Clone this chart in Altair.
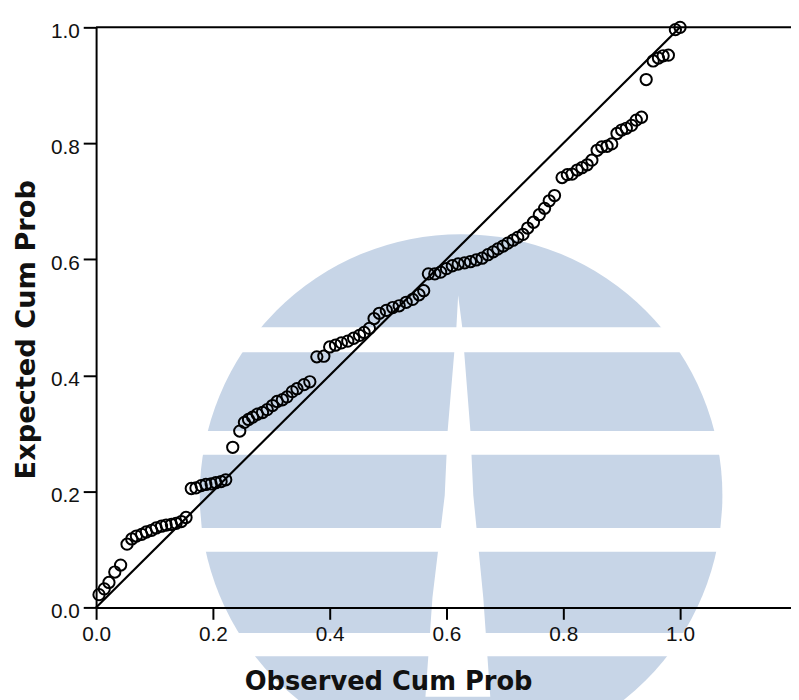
import altair as alt
import pandas as pd

# Observed / expected cumulative probabilities
obs = [0.005, 0.014, 0.022, 0.032, 0.042, 0.053, 0.061, 0.069, 0.078, 0.086,
       0.095, 0.103, 0.112, 0.120, 0.129, 0.137, 0.146, 0.154, 0.163, 0.171,
       0.180, 0.188, 0.197, 0.205, 0.214, 0.222, 0.234, 0.246, 0.254, 0.261,
       0.268, 0.276, 0.285, 0.293, 0.302, 0.310, 0.319, 0.327, 0.336, 0.344,
       0.356, 0.366, 0.378, 0.390, 0.400, 0.410, 0.420, 0.431, 0.441, 0.451,
       0.459, 0.468, 0.476, 0.485, 0.497, 0.508, 0.519, 0.531, 0.542, 0.553,
       0.561, 0.569, 0.580, 0.590, 0.600, 0.610, 0.620, 0.631, 0.641, 0.651,
       0.661, 0.671, 0.680, 0.688, 0.697, 0.705, 0.714, 0.722, 0.731, 0.739,
       0.749, 0.759, 0.768, 0.776, 0.785, 0.798, 0.807, 0.815, 0.824, 0.832,
       0.841, 0.849, 0.858, 0.866, 0.875, 0.883, 0.892, 0.900, 0.908, 0.917,
       0.925, 0.934, 0.942, 0.954, 0.963, 0.971, 0.980, 0.992, 1.000]
exp = [0.022, 0.032, 0.043, 0.061, 0.073, 0.109, 0.118, 0.123, 0.126, 0.130,
       0.133, 0.137, 0.140, 0.142, 0.143, 0.145, 0.148, 0.155, 0.205, 0.206,
       0.210, 0.212, 0.213, 0.215, 0.217, 0.220, 0.276, 0.304, 0.319, 0.324,
       0.328, 0.333, 0.336, 0.341, 0.348, 0.355, 0.358, 0.363, 0.372, 0.377,
       0.384, 0.389, 0.432, 0.433, 0.449, 0.452, 0.456, 0.459, 0.464, 0.469,
       0.474, 0.481, 0.498, 0.507, 0.512, 0.517, 0.520, 0.526, 0.531, 0.539,
       0.546, 0.575, 0.575, 0.578, 0.584, 0.589, 0.592, 0.594, 0.596, 0.599,
       0.602, 0.608, 0.613, 0.618, 0.623, 0.628, 0.633, 0.638, 0.643, 0.654,
       0.664, 0.677, 0.688, 0.701, 0.710, 0.741, 0.746, 0.747, 0.754, 0.758,
       0.763, 0.771, 0.788, 0.794, 0.795, 0.799, 0.817, 0.823, 0.826, 0.831,
       0.840, 0.845, 0.910, 0.942, 0.947, 0.951, 0.952, 0.996, 1.000]

ref_x = [0.0, 1.0]
ref_y = [0.0, 1.0]
tick_vals = [0.0, 0.2, 0.4, 0.6, 0.8, 1.0]

# background watermark (logo) in data units
logo_x = [0.625]
logo_y = [0.193]
band_top = [0.483, 0.304, 0.137, -0.044]
band_bot = [0.440, 0.263, 0.096, -0.084]
band_left = [0.15, 0.15, 0.15, 0.15]
band_right = [1.15, 1.15, 1.15, 1.15]
gap_y = [-0.154, 0.017, 0.193, 0.304, 0.483, 0.538]
gap_l = [0.564, 0.576, 0.597, 0.602, 0.617, 0.620]
gap_r = [0.675, 0.663, 0.646, 0.641, 0.627, 0.620]

pts = pd.DataFrame({"obs": obs, "exp": exp})
ref = pd.DataFrame({"obs": ref_x, "exp": ref_y})
logo = pd.DataFrame({"obs": logo_x, "exp": logo_y})
bands = pd.DataFrame({"obs": band_left, "obs2": band_right, "exp": band_top, "exp2": band_bot})
gap = pd.DataFrame({"exp": gap_y, "obs": gap_l, "obs2": gap_r})
top = pd.DataFrame({"exp": [1.0]})

xs = alt.Scale(domain=[0, 1.19], nice=False, zero=False)
ys = alt.Scale(domain=[0, 1], nice=False, zero=False)

label_font = "Liberation Sans"
title_font = "DejaVu Sans"

x_axis = alt.Axis(values=tick_vals, format=".1f", grid=False, zindex=1, labelFlush=False,
                  domainColor="#000", domainWidth=2, tickColor="#000", tickWidth=2,
                  tickSize=12, labelPadding=4, labelFont=label_font, labelFontSize=21,
                  labelColor="#111", titleFont=title_font, titleFontSize=26,
                  titleFontWeight="bold", titleColor="#111", titleX=295, titleY=83,
                  titleAlign="center", titleBaseline="alphabetic")
y_axis = alt.Axis(values=tick_vals, format=".1f", grid=False, zindex=1, labelFlush=False,
                  domainColor="#000", domainWidth=2, tickColor="#000", tickWidth=2,
                  tickSize=13, labelPadding=4, labelOffset=4, labelFont=label_font,
                  labelFontSize=21, labelColor="#111", titleFont=title_font,
                  titleFontSize=27.5, titleFontWeight="bold", titleColor="#111",
                  titleX=-62, titleY=305, titleAngle=-90, titleAlign="center",
                  titleBaseline="alphabetic")

X = lambda f: alt.X(f, scale=xs, axis=x_axis, title="Observed Cum Prob")
Y = lambda f: alt.Y(f, scale=ys, axis=y_axis, title="Expected Cum Prob")

wm_color = "#c7d5e7"

logo_layer = alt.Chart(logo).mark_point(shape="circle", filled=True, opacity=1,
                                         color=wm_color, strokeWidth=0).encode(
    x=X("obs:Q"), y=Y("exp:Q"), size=alt.value(278784))

band_layer = alt.Chart(bands).mark_rect(color="white").encode(
    x=X("obs:Q"), x2="obs2:Q", y=Y("exp:Q"), y2="exp2:Q")

gap_layer = alt.Chart(gap).mark_area(color="white", orient="horizontal", opacity=1).encode(
    y=Y("exp:Q"), x=X("obs:Q"), x2="obs2:Q")

ref_layer = alt.Chart(ref).mark_line(color="#000", strokeWidth=2.2).encode(
    x=X("obs:Q"), y=Y("exp:Q"))

pt_layer = alt.Chart(pts).mark_point(shape="circle", filled=False, color="#000",
                                      strokeWidth=2, opacity=1, size=130).encode(
    x=X("obs:Q"), y=Y("exp:Q"))

top_layer = alt.Chart(top).mark_rule(color="#000", strokeWidth=2).encode(
    y=Y("exp:Q"))

chart = alt.layer(logo_layer, band_layer, gap_layer, ref_layer, pt_layer, top_layer).properties(
    width=702, height=586,
    padding={"left": 89, "top": 16, "right": 0, "bottom": 90},
    autosize=alt.AutoSizeParams(type="none"),
    background="white",
).configure_view(stroke=None)

chart.save("out.html", embed_options={"renderer": "svg", "actions": False})
